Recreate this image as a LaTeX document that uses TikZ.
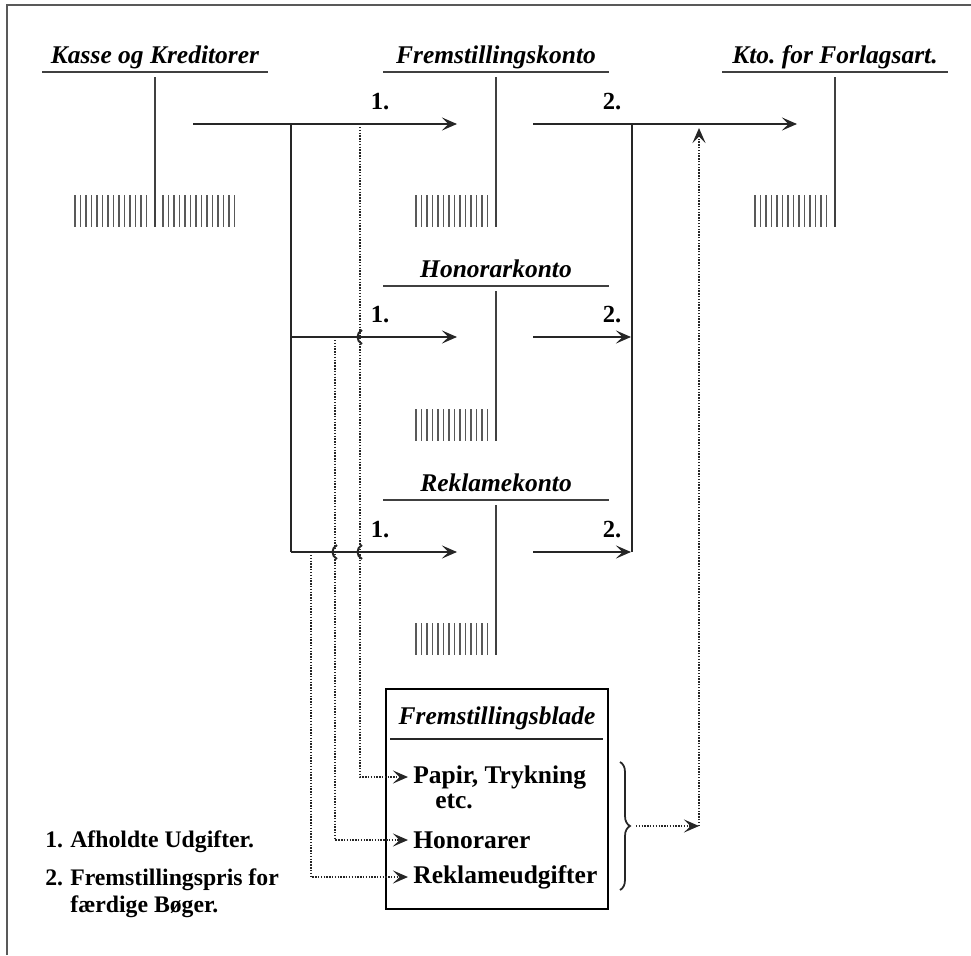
\documentclass[tikz,border=0pt]{standalone}
\usepackage{fontspec}
\setmainfont{Liberation Serif}
\usetikzlibrary{arrows.meta,decorations.pathreplacing}

\begin{document}
\begin{tikzpicture}[
    x=0.2mm, y=-0.2mm,
    konto/.style={font=\bfseries\itshape\fontsize{14.5}{16}\selectfont, anchor=base, inner sep=0pt},
    num/.style={font=\bfseries\fontsize{14}{16}\selectfont, anchor=base, inner sep=0pt},
    post/.style={font=\bfseries\fontsize{14.5}{16}\selectfont, anchor=west, inner sep=1mm},
    legend/.style={font=\bfseries\fontsize{13.5}{15}\selectfont, anchor=base west, inner sep=0pt},
    rule/.style={line width=0.9pt, black!75},
    hatch/.style={line width=0.6pt, black!65},
    conn/.style={line width=0.8pt, black!85},
    flow/.style={conn, -{Stealth[length=3mm, width=2.6mm, inset=1.3mm]}},
    dotflow/.style={flow, dash pattern=on 0.8pt off 0.8pt, line width=0.8pt},
    blade/.style={draw, line width=0.8pt, minimum width=44.4mm, minimum height=44mm}
]
\useasboundingbox (0,0) rectangle (971,955);
% frame
\draw[line width=1.2pt, black!65] (7,955) -- (7,5) -- (971,5);

% T-accounts
\foreach \n/\cx/\uy/\title in {kk/155/72/Kasse og Kreditorer, fk/496/72/Fremstillingskonto,
  fa/835/72/Kto.\ for Forlagsart., hk/496/286/Honorarkonto, rk/496/500/Reklamekonto}{
    \node[konto] (t\n) at (\cx,\uy-9) {\title};
    \draw[rule] (\cx-113,\uy) -- (\cx+113,\uy);
    \draw[rule] (\cx,\uy+5) -- (\cx,\uy+155);
    \foreach \i in {0,...,13}
        \draw[hatch] (\cx-80+\i*5.5,\uy+123) -- ++(0,32);
}
\foreach \i in {0,...,13}
    \draw[hatch] (163+\i*5.5,195) -- ++(0,32);

% 1. afholdte udgifter
\coordinate (k1s) at (193,124);
\coordinate (k1e) at (457,124);
\coordinate (b1) at (291,124);
\coordinate (b3) at (291,552);
\coordinate (h1s) at (291,337);
\coordinate (h1e) at (457,337);
\coordinate (r1s) at (291,552);
\coordinate (r1e) at (457,552);
\draw[flow] (k1s) -- (k1e);
\draw[conn] (b1) -- (b3);
\draw[flow] (h1s) -- (h1e);
\draw[flow] (r1s) -- (r1e);
\foreach \yy in {124,337,552}
    \node[num] (one\yy) at (380,\yy-15) {1.};

% 2. fremstillingspris
\coordinate (f2s) at (533,124);
\coordinate (f2e) at (797,124);
\coordinate (c2t) at (632,124);
\coordinate (c2b) at (632,552);
\coordinate (h2s) at (533,337);
\coordinate (h2e) at (631,337);
\coordinate (r2s) at (533,552);
\coordinate (r2e) at (631,552);
\draw[flow] (f2s) -- (f2e);
\draw[conn] (c2t) -- (c2b);
\draw[flow] (h2s) -- (h2e);
\draw[flow] (r2s) -- (r2e);
\foreach \yy in {124,337,552}
    \node[num] (two\yy) at (612,\yy-15) {2.};

% Fremstillingsblade
\node[blade] (blade) at (497,799) {};
\node[konto] (bladet) at (497,724) {Fremstillingsblade};
\draw[conn] (390,739) -- (603,739);
\node[post] (papir) at (408,777) {Papir, Trykning};
\node[post] (etc) at (430,801) {etc.};
\node[post] (honor) at (408,840) {Honorarer};
\node[post] (rekl) at (408,877) {Reklameudgifter};

\coordinate (d1) at (360,127);
\coordinate (d2) at (335,340);
\coordinate (d3) at (311,555);
\draw[dotflow] (d1) |- (papir.west);
\draw[dotflow] (d2) |- (honor.west);
\draw[dotflow] (d3) |- (rekl.west);
% hops
\foreach \hx/\hy in {360/337, 360/552, 335/552}
    \draw[conn, line width=1.1pt] (\hx+2,\hy-7) .. controls (\hx-4,\hy-4) and (\hx-4,\hy+4) .. (\hx+2,\hy+7);

\draw[conn, decorate, decoration={brace, amplitude=2mm}, line width=1pt] (620,762) -- (620,890);
\coordinate (bt) at (636,826);
\coordinate (bc) at (699,826);
\coordinate (d4) at (699,128);
\draw[dotflow] (bt) -- (bc);
\draw[dotflow] (bc) -- (d4);

% legend
\node[legend] (l1n) at (45,847) {1.};
\node[legend] (l1) at (70,847) {Afholdte Udgifter.};
\node[legend] (l2n) at (45,885) {2.};
\node[legend] (l2) at (70,885) {Fremstillingspris for};
\node[legend] (l2b) at (70,912) {færdige Bøger.};
\end{tikzpicture}
\end{document}
